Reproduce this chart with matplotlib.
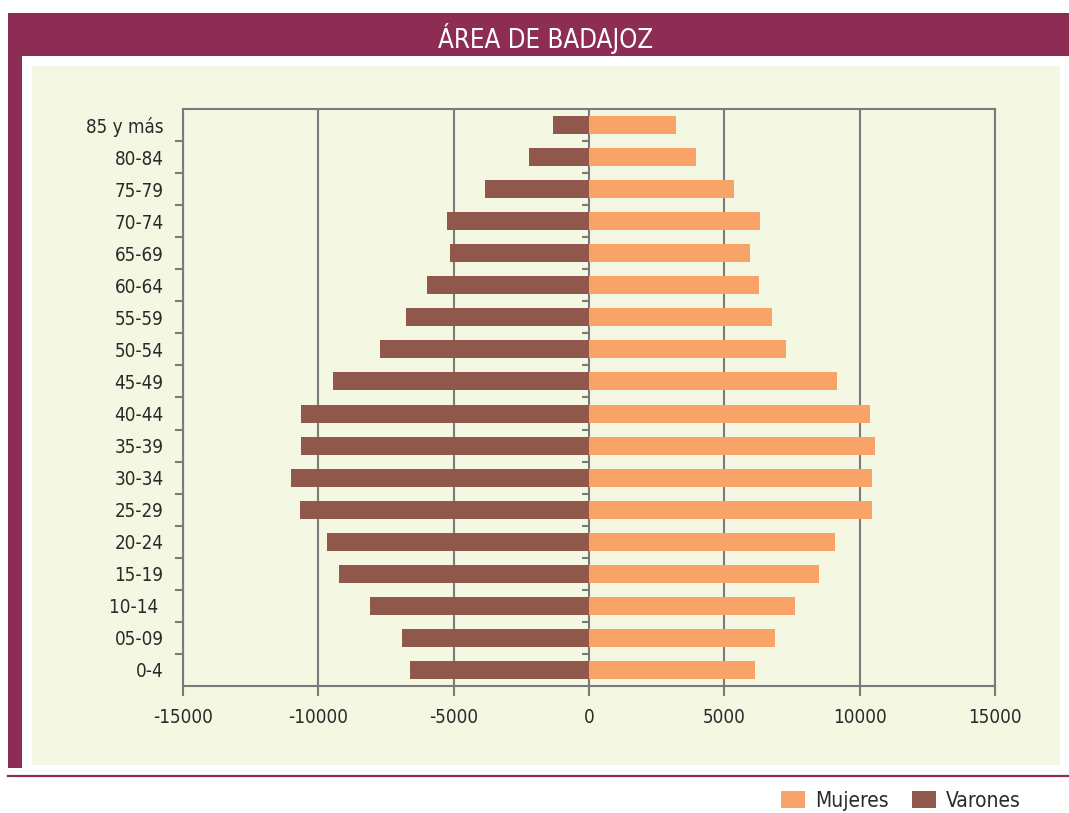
import numpy as np
import matplotlib.pyplot as plt
from matplotlib.patches import Rectangle, Patch
from matplotlib.lines import Line2D

plt.rcParams['font.family'] = ['DejaVu Sans']
plt.rcParams['font.stretch'] = 'condensed'
plt.rcParams['axes.unicode_minus'] = False

# ==========================================================
# Datos (de abajo hacia arriba)
# ==========================================================
grupos = ["0-4", "05-09", "10-14 ", "15-19", "20-24", "25-29", "30-34",
          "35-39", "40-44", "45-49", "50-54", "55-59", "60-64", "65-69",
          "70-74", "75-79", "80-84", "85 y más"]

varones = [-6600, -6900, -8080, -9220, -9665, -10660, -10995, -10625,
           -10625, -9445, -7710, -6750, -5975, -5125, -5235, -3830,
           -2205, -1320]

mujeres = [6120, 6860, 7600, 8490, 9080, 10450, 10450, 10560, 10380,
           9160, 7270, 6750, 6270, 5930, 6300, 5340, 3940, 3200]

xticks = [-15000, -10000, -5000, 0, 5000, 10000, 15000]

# ==========================================================
# Colores
# ==========================================================
granate = "#8E2D53"
fondo = "#F4F7E2"
c_varones = "#8F584A"
c_mujeres = "#F8A367"
gris = "#7A7A7A"
texto = "#2A2A2A"

W, H = 1069, 813
fig = plt.figure(figsize=(W / 100, H / 100), dpi=100)


def px_rect(x0, y0, x1, y1, color):
    fig.add_artist(Rectangle((x0 / W, 1 - y1 / H), (x1 - x0) / W,
                             (y1 - y0) / H, transform=fig.transFigure,
                             facecolor=color, edgecolor="none", zorder=0))


# barra de título, franja izquierda y panel
px_rect(8, 13, 1069, 56, granate)
px_rect(8, 13, 22, 768, granate)
px_rect(32, 66, 1060, 765, fondo)
fig.add_artist(Line2D([8 / W, 1], [1 - 775.5 / H, 1 - 775.5 / H],
                      transform=fig.transFigure, color=granate,
                      linewidth=1.6))

fig.text(546 / W, 1 - 39 / H, "ÁREA DE BADAJOZ", color="white",
         fontsize=18.5, ha="center", va="center")

# ==========================================================
# Pirámide
# ==========================================================
ax = fig.add_axes([183 / W, 1 - 686 / H, (995 - 183) / W, (686 - 109) / H])
ax.set_facecolor(fondo)

y = np.arange(len(grupos))
ax.barh(y, varones, height=0.56, color=c_varones, zorder=3)
ax.barh(y, mujeres, height=0.56, color=c_mujeres, zorder=3)

ax.set_xlim(-15000, 15000)
ax.set_ylim(-0.5, len(grupos) - 0.5)

ax.set_xticks(xticks)
ax.set_xticklabels([str(v) for v in xticks])
ax.grid(axis="x", color=gris, linewidth=1.5, zorder=1)
ax.set_axisbelow(True)

# etiquetas centradas, marcas entre grupos
ax.set_yticks(y)
ax.set_yticklabels(grupos)
ax.set_yticks(y[:-1] + 0.5, minor=True)
ax.tick_params(axis="y", which="major", length=0, pad=14,
               labelsize=13.5, labelcolor=texto)
ax.tick_params(axis="y", which="minor", length=6, width=1.5, color=gris)
ax.tick_params(axis="x", length=7, width=1.5, color=gris, pad=9,
               labelsize=13.5, labelcolor=texto)

# marcas sobre el eje cero
ax.plot(np.zeros(len(grupos) - 1), y[:-1] + 0.5, linestyle="none",
        marker=0, markersize=5, markeredgewidth=1.5, color=gris, zorder=4)

for s in ax.spines.values():
    s.set_color(gris)
    s.set_linewidth(1.5)

# ==========================================================
# Leyenda
# ==========================================================
handles = [Patch(facecolor=c_mujeres, label="Mujeres"),
           Patch(facecolor=c_varones, label="Varones")]
fig.legend(handles=handles, loc="center", ncol=2, frameon=False,
           bbox_to_anchor=(901 / W, 1 - 801 / H), fontsize=15,
           handlelength=1.15, handleheight=0.87, handletextpad=0.45,
           columnspacing=1.15, labelcolor=texto)

fig.savefig("out.png", dpi=100)
